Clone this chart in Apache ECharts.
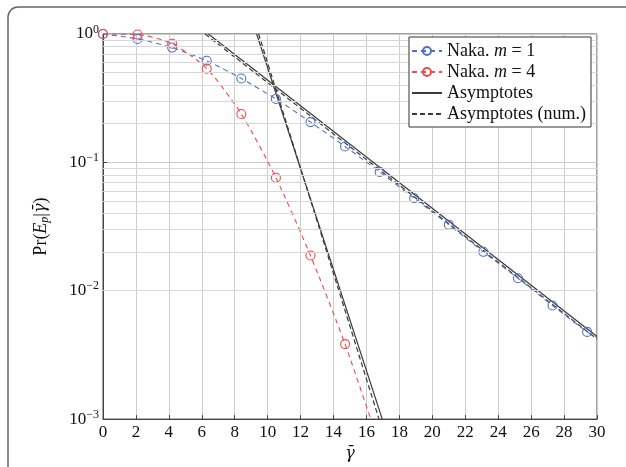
<!DOCTYPE html>
<html>
<head>
<meta charset="utf-8">
<script src="https://cdn.jsdelivr.net/npm/echarts@6/dist/echarts.min.js"></script>
<style>
  html, body { margin: 0; padding: 0; background: #fff; }
  #main { width: 626px; height: 467px; }
</style>
</head>
<body>
<div id="main"></div>
<script>
// Naka. m = 1 (marks every 2.1, last point only continues the curve)
var snrM1 = [0, 2.1, 4.2, 6.3, 8.4, 10.5, 12.6, 14.7, 16.8, 18.9, 21.0, 23.1, 25.2, 27.3, 29.4, 30];
var perM1 = [1.0, 0.915, 0.784, 0.619, 0.45, 0.312, 0.206, 0.133, 0.0843, 0.0525, 0.0327, 0.0201, 0.0125, 0.00767, 0.00478, 0.0043];
// Naka. m = 4
var snrM4 = [0, 2.1, 4.2, 6.3, 8.4, 10.5, 12.6, 14.7, 16.8];
var perM4 = [1.0, 0.99, 0.84, 0.537, 0.238, 0.0759, 0.0188, 0.00384, 0.00062];
// asymptotes (straight in log scale -> end points)
var asymX1 = [6.4, 30], asymY1 = [1, 0.0044];
var asymX4 = [9.33, 16.96], asymY4 = [1, 0.001];
var numX1 = [6.2, 30], numY1 = [1, 0.0042];
var numX4 = [9.45, 16.76], numY4 = [1, 0.001];
// minor grid lines of the log axis
var minorGrid = [];
[0.001, 0.01, 0.1].forEach(function (d) {
  for (var k = 2; k <= 9; k++) minorGrid.push(+(d * k).toPrecision(3));
});
var xTicks = [0, 30, 2];

var serif = "Liberation Serif";
var mathFont = "DejaVu Serif";
var blue = "#4f6fc6";
var red = "#f24a4a";
var dark = "#3a3a3a";

function pairs(xs, ys, lastNoMark) {
  var out = [];
  for (var i = 0; i < xs.length; i++) {
    if (lastNoMark && i === xs.length - 1) {
      out.push({ value: [xs[i], ys[i]], symbol: "none" });
    } else {
      out.push([xs[i], ys[i]]);
    }
  }
  return out;
}

var myChart = echarts.init(document.getElementById("main"));

var legendText = {
  "Naka. m = 1": "{t|Naka. }{i|m}{t| = 1}",
  "Naka. m = 4": "{t|Naka. }{i|m}{t| = 4}",
  "Asymptotes": "{t|Asymptotes}",
  "Asymptotes (num.)": "{t|Asymptotes (num.)}"
};

function supLabel(v) {
  var e = Math.round(Math.log10(v));
  return "{b|10}{s|" + (e < 0 ? "\u2212" + (-e) : e) + "}";
}

myChart.setOption({
  animation: false,
  backgroundColor: "#fff",
  grid: {
    left: 103,
    right: 29,
    top: 34,
    bottom: 44,
    show: true,
    borderColor: "#444",
    borderWidth: 1
  },
  graphic: [
    {
      type: "rect",
      shape: { x: 8, y: 7, width: 660, height: 500, r: 10 },
      style: { fill: "none", stroke: "#666", lineWidth: 1.5 },
      silent: true
    }
  ],
  legend: {
    orient: "vertical",
    left: 409,
    top: 37,
    z: 20,
    padding: [5, 5, 4, 2],
    itemGap: 3,
    itemWidth: 30,
    itemHeight: 10,
    backgroundColor: "#fff",
    borderColor: "#333",
    borderWidth: 1,
    data: [
      "Naka. m = 1",
      "Naka. m = 4",
      { name: "Asymptotes", itemStyle: { opacity: 0 } },
      { name: "Asymptotes (num.)", itemStyle: { opacity: 0 } }
    ],
    formatter: function (name) {
      return legendText[name];
    },
    textStyle: {
      fontFamily: serif,
      fontSize: 18,
      color: "#111",
      rich: {
        t: { fontFamily: serif, fontSize: 18, color: "#111" },
        i: { fontFamily: serif, fontStyle: "italic", fontSize: 18, color: "#111" }
      }
    }
  },
  xAxis: {
    type: "value",
    min: xTicks[0],
    max: xTicks[1],
    interval: xTicks[2],
    name: "\u03B3\u0304",
    nameLocation: "middle",
    nameGap: 20,
    nameTextStyle: { fontFamily: mathFont, fontSize: 16, fontStyle: "italic", color: "#111" },
    axisLine: { show: true, lineStyle: { color: "#444" } },
    axisTick: { show: true, inside: true, length: 4, lineStyle: { color: "#444" } },
    axisLabel: { fontFamily: serif, fontSize: 17, color: "#111", margin: 5 },
    splitLine: { show: true, lineStyle: { color: "#cdcdcd", width: 1 } }
  },
  yAxis: {
    type: "log",
    logBase: 10,
    min: 0.001,
    max: 1,
    name: "{n|Pr(}{i|E}{sub|p}{n||}{g|\u03B3\u0304}{n|)}",
    nameLocation: "middle",
    nameGap: 52,
    nameTextStyle: {
      rich: {
        n: { fontFamily: serif, fontSize: 18, color: "#111" },
        i: { fontFamily: serif, fontSize: 18, fontStyle: "italic", color: "#111" },
        g: { fontFamily: mathFont, fontSize: 16, fontStyle: "italic", color: "#111" },
        sub: { fontFamily: serif, fontSize: 12, fontStyle: "italic", color: "#111", padding: [8, 0, 0, 0] }
      }
    },
    axisLine: { show: true, lineStyle: { color: "#444" } },
    axisTick: { show: true, inside: true, length: 4, lineStyle: { color: "#444" } },
    axisLabel: {
      margin: 4,
      formatter: supLabel,
      rich: {
        b: { fontFamily: serif, fontSize: 17, color: "#111" },
        s: { fontFamily: serif, fontSize: 12, color: "#111", padding: [0, 0, 9, 0] }
      }
    },
    splitLine: { show: true, lineStyle: { color: "#cbcbcb", width: 1 } }
  },
  series: [
    {
      name: "minor grid",
      type: "line",
      data: [],
      silent: true,
      markLine: {
        silent: true,
        symbol: "none",
        label: { show: false },
        lineStyle: { color: "#d8d8d8", type: "solid", width: 1 },
        data: minorGrid.map(function (v) { return { yAxis: v }; })
      },
      z: 1
    },
    {
      name: "Asymptotes",
      type: "line",
      data: pairs(asymX1, asymY1),
      symbol: "none",
      lineStyle: { color: dark, width: 1.2, type: "solid" },
      itemStyle: { color: dark },
      z: 3
    },
    {
      name: "Asymptotes",
      type: "line",
      data: pairs(asymX4, asymY4),
      symbol: "none",
      lineStyle: { color: dark, width: 1.2, type: "solid" },
      itemStyle: { color: dark },
      z: 3
    },
    {
      name: "Asymptotes (num.)",
      type: "line",
      data: pairs(numX1, numY1),
      symbol: "none",
      lineStyle: { color: dark, width: 1.2, type: [5, 3] },
      itemStyle: { color: dark },
      z: 3
    },
    {
      name: "Asymptotes (num.)",
      type: "line",
      data: pairs(numX4, numY4),
      symbol: "none",
      lineStyle: { color: dark, width: 1.2, type: [5, 3] },
      itemStyle: { color: dark },
      z: 3
    },
    {
      name: "Naka. m = 1",
      type: "line",
      data: pairs(snrM1, perM1, true),
      smooth: 0.25,
      symbol: "circle",
      symbolSize: 9,
      showAllSymbol: true,
      lineStyle: { color: blue, width: 1.1, type: [5, 4] },
      itemStyle: { color: "rgba(255,255,255,0)", borderColor: blue, borderWidth: 1.1 },
      z: 4
    },
    {
      name: "Naka. m = 4",
      type: "line",
      data: pairs(snrM4, perM4, true),
      smooth: 0.25,
      symbol: "circle",
      symbolSize: 9,
      showAllSymbol: true,
      lineStyle: { color: red, width: 1.1, type: [5, 4] },
      itemStyle: { color: "rgba(255,255,255,0)", borderColor: red, borderWidth: 1.1 },
      z: 4
    }
  ]
});
</script>
</body>
</html>
